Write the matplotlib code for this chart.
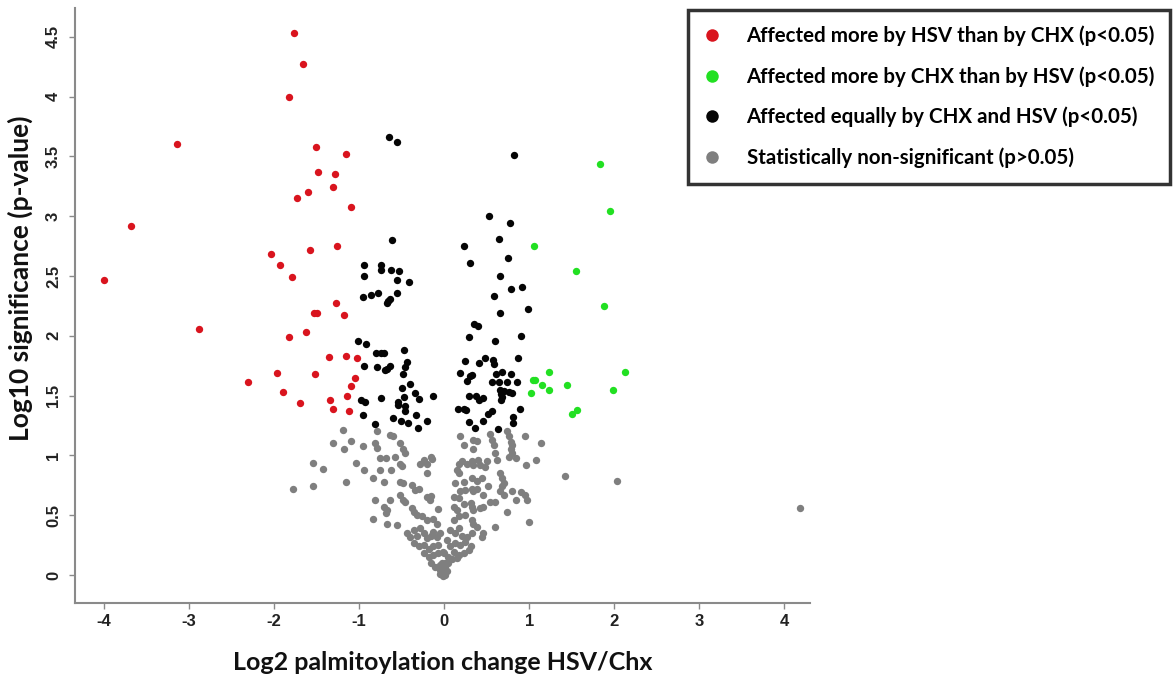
import matplotlib
matplotlib.use('Agg')
import matplotlib.pyplot as plt
from matplotlib.lines import Line2D

# red: affected more by HSV than CHX
red_x = [-1.76, -1.66, -1.83, -3.14, -1.51, -1.16, -1.48, -1.28, -1.31, -1.60,
         -1.73, -1.09, -3.68, -1.26, -1.58, -2.04, -1.93, -1.79, -4.00, -1.27,
         -1.53, -1.49, -1.18, -2.88, -1.62, -1.83, -1.36, -1.15, -1.02, -1.97,
         -1.52, -1.05, -2.31, -1.09, -1.90, -1.14, -1.69, -1.34, -1.31, -1.12]
red_y = [4.53, 4.27, 4.00, 3.60, 3.58, 3.52, 3.37, 3.35, 3.24, 3.20,
         3.15, 3.08, 2.92, 2.75, 2.72, 2.68, 2.59, 2.49, 2.47, 2.27,
         2.19, 2.19, 2.17, 2.06, 2.03, 1.99, 1.82, 1.83, 1.81, 1.69,
         1.68, 1.65, 1.61, 1.58, 1.53, 1.50, 1.44, 1.46, 1.39, 1.37]

# green: affected more by CHX than HSV
green_x = [1.83, 1.95, 1.05, 1.55, 1.88, 2.13, 1.23, 1.04, 1.07, 1.15, 1.23, 1.44, 1.98, 1.02, 1.50, 1.56]
green_y = [3.44, 3.04, 2.75, 2.54, 2.25, 1.70, 1.70, 1.63, 1.63, 1.59, 1.55, 1.59, 1.55, 1.52, 1.35, 1.38]

# black: affected equally
black_x = [-0.65, -0.56, 0.82, 0.53, 0.77, -0.61, 0.23, 0.64, 0.30, 0.75,
           -0.94, -0.74, -0.74, -0.62, -0.53, -0.94, -0.55, -0.41, 0.66, 0.92,
           0.78, -0.96, -0.86, -0.78, -0.56, -0.64, -0.66, -0.67, 0.58, 0.99,
           0.66, 0.35, 0.40, 0.29, 0.60, 0.90, -1.01, -0.92, -0.80, -0.74,
           -0.71, -0.47, 0.87, 0.25, 0.48, 0.41, 0.57, 0.58, -0.44, -0.46,
           -0.94, -0.79, -0.64, -0.67, -0.70, -0.49, 0.18, 0.33, 0.30, 0.27,
           0.61, 0.68, 0.78, 0.56, 0.64, 0.74, 0.86, -0.40, -0.50, -0.34,
           -0.30, -0.47, -0.74, -0.98, -0.93, -0.13, 0.29, 0.37, 0.41, 0.46,
           0.66, 0.70, 0.76, 0.80, 0.67, 0.68, 0.67, -0.54, -0.54, -0.46,
           -0.46, 0.16, 0.23, 0.26, 0.89, -0.96, 0.56, 0.51, -0.60, -0.51,
           -0.42, -0.33, -0.20, -0.31, -0.81, 0.29, 0.46, 0.36, 0.63, 0.81, 0.81]
black_y = [3.66, 3.62, 3.51, 3.00, 2.94, 2.80, 2.75, 2.81, 2.61, 2.65,
           2.59, 2.59, 2.55, 2.55, 2.54, 2.50, 2.47, 2.45, 2.50, 2.41,
           2.39, 2.32, 2.34, 2.36, 2.36, 2.31, 2.29, 2.27, 2.33, 2.22,
           2.19, 2.10, 2.08, 1.99, 1.96, 2.00, 1.96, 1.93, 1.86, 1.86,
           1.86, 1.88, 1.81, 1.79, 1.81, 1.77, 1.80, 1.76, 1.78, 1.74,
           1.75, 1.74, 1.75, 1.72, 1.71, 1.68, 1.69, 1.67, 1.66, 1.62,
           1.68, 1.70, 1.68, 1.61, 1.61, 1.61, 1.61, 1.60, 1.56, 1.52,
           1.47, 1.49, 1.48, 1.46, 1.45, 1.50, 1.50, 1.50, 1.46, 1.48,
           1.55, 1.54, 1.53, 1.52, 1.51, 1.49, 1.46, 1.45, 1.42, 1.41,
           1.37, 1.39, 1.39, 1.38, 1.39, 1.34, 1.37, 1.35, 1.31, 1.29,
           1.27, 1.34, 1.29, 1.23, 1.26, 1.28, 1.29, 1.23, 1.22, 1.32, 1.27]

# gray: non-significant
gray_x = [-1.78, -1.54, -1.54, -1.43, -1.31, -1.19, -1.15, -1.18, -1.10, -1.04,
          -0.96, -0.94, -0.84, -0.81, -0.84, -0.79, -0.81, -0.79, -0.76, -0.76,
          -0.64, -0.60, -0.52, -0.48, -0.46, -0.68, -0.58, -0.52, -0.50, -0.62,
          -0.28, -0.24, -0.16, -0.20, -0.14, -0.20, -0.71, -0.52, -0.48, -0.38,
          -0.34, -0.30, -0.20, -0.17, -0.16, -0.52, -0.48, -0.46, -0.64, -0.71,
          -0.67, -0.69, -0.38, -0.36, -0.32, -0.26, -0.20, -0.13, -0.09, -0.07,
          -0.67, -0.56, -0.44, -0.40, -0.36, -0.32, -0.28, -0.24, -0.20, -0.16,
          -0.13, -0.09, -0.05, -0.36, -0.30, -0.24, -0.18, -0.13, -0.07, -0.24,
          -0.18, -0.13, -0.07, -0.01, -0.16, -0.11, -0.05, 0.01, -0.05, -0.01,
          0.03, 0.19, 0.23, 0.34, 0.38, 0.34, 0.54, 0.56, 0.58, 0.60,
          0.62, 0.17, 0.21, 0.27, 0.33, 0.34, 0.40, 0.42, 0.15, 0.17,
          0.33, 0.38, 0.44, 0.66, 0.68, 0.70, 0.13, 0.23, 0.19, 0.25,
          0.33, 0.34, 0.38, 0.52, 0.46, 0.54, 0.60, 0.66, 0.70, 0.11,
          0.17, 0.11, 0.15, 0.23, 0.31, 0.33, 0.34, 0.42, 0.46, 0.11,
          0.17, 0.25, 0.33, 0.34, 0.38, 0.60, 0.07, 0.13, 0.17, 0.21,
          0.27, 0.33, 0.44, 0.46, 0.03, 0.07, 0.13, 0.19, 0.25, 0.31,
          0.00, 0.05, 0.11, 0.17, 0.23, 0.29, -0.03, 0.01, 0.05, 0.09,
          0.15, -0.03, 0.01, -0.05, 0.74, 0.76, 0.78, 0.80, 0.78, 0.80,
          0.76, 0.84, 0.95, 1.14, 1.08, 0.96, 0.68, 0.80, 0.84, 0.90,
          0.95, 0.97, 0.74, 1.00, 1.42, 2.03, 4.18, 0.50, 0.48]
gray_y = [0.72, 0.74, 0.94, 0.89, 1.10, 1.21, 0.78, 1.05, 1.12, 0.94,
          1.08, 0.88, 0.81, 0.63, 0.47, 1.20, 1.10, 1.06, 0.98, 0.88,
          1.17, 1.16, 1.10, 1.05, 1.02, 0.98, 0.99, 0.93, 0.91, 0.88,
          0.93, 0.96, 0.99, 0.93, 0.97, 0.85, 0.78, 0.78, 0.77, 0.75,
          0.71, 0.72, 0.65, 0.63, 0.66, 0.67, 0.63, 0.61, 0.63, 0.57,
          0.54, 0.52, 0.56, 0.53, 0.50, 0.49, 0.46, 0.47, 0.43, 0.55,
          0.43, 0.42, 0.35, 0.32, 0.38, 0.33, 0.39, 0.35, 0.31, 0.33,
          0.36, 0.32, 0.35, 0.27, 0.24, 0.25, 0.22, 0.24, 0.25, 0.18,
          0.15, 0.17, 0.18, 0.19, 0.10, 0.07, 0.08, 0.10, 0.01, -0.01,
          0.03, 1.16, 1.09, 1.13, 1.12, 1.05, 1.18, 1.13, 1.09, 1.02,
          0.96, 0.93, 0.95, 0.93, 0.95, 0.92, 0.96, 0.92, 0.88, 0.85,
          0.81, 0.79, 0.81, 0.85, 0.81, 0.77, 0.77, 0.78, 0.70, 0.71,
          0.72, 0.70, 0.72, 0.74, 0.67, 0.61, 0.61, 0.70, 0.67, 0.65,
          0.64, 0.57, 0.54, 0.59, 0.60, 0.57, 0.54, 0.56, 0.57, 0.46,
          0.49, 0.50, 0.46, 0.43, 0.40, 0.40, 0.38, 0.35, 0.39, 0.33,
          0.32, 0.35, 0.32, 0.35, 0.29, 0.24, 0.27, 0.25, 0.28, 0.24,
          0.18, 0.15, 0.19, 0.17, 0.18, 0.21, 0.10, 0.07, 0.10, 0.13,
          0.14, 0.01, 0.00, 0.04, 1.20, 1.16, 1.11, 1.09, 1.05, 1.02,
          0.99, 0.98, 1.16, 1.10, 0.96, 0.92, 0.74, 0.70, 0.63, 0.69,
          0.67, 0.63, 0.53, 0.44, 0.83, 0.79, 0.56, 0.95, 0.90]

x_ticks = [-4, -3, -2, -1, 0, 1, 2, 3, 4]
y_ticks = [0, 0.5, 1, 1.5, 2, 2.5, 3, 3.5, 4, 4.5]

legend_labels = ['Affected more by HSV than by CHX (p<0.05)',
                 'Affected more by CHX than by HSV (p<0.05)',
                 'Affected equally by CHX and HSV (p<0.05)',
                 'Statistically non-significant (p>0.05)']

c_red = '#d9141e'
c_green = '#22e022'
c_black = '#050505'
c_gray = '#7f7f7f'

fig = plt.figure(figsize=(11.73, 6.8), dpi=100)
ax = fig.add_axes([75 / 1173, 1 - 603 / 680, 735 / 1173, 595 / 680])

ms = 28
ax.scatter(gray_x, gray_y, s=ms, color=c_gray, linewidths=0)
ax.scatter(black_x, black_y, s=ms, color=c_black, linewidths=0)
ax.scatter(red_x, red_y, s=ms, color=c_red, linewidths=0)
ax.scatter(green_x, green_y, s=ms, color=c_green, linewidths=0)

ax.set_xlim(-4.34, 4.3)
ax.set_ylim(-0.234, 4.74)
ax.set_xticks(x_ticks)
ax.set_yticks(y_ticks)
ax.set_xticklabels([str(t) for t in x_ticks], fontsize=12, fontweight='bold',
                   family=['Liberation Sans Narrow', 'Liberation Sans'], color='#222222')
ax.set_yticklabels(['0', '0.5', '1', '1.5', '2', '2.5', '3', '3.5', '4', '4.5'],
                   fontsize=12, fontweight='bold', rotation=90, va='center',
                   family=['Liberation Sans Narrow', 'Liberation Sans'], color='#222222')
for s in ['top', 'right']:
    ax.spines[s].set_visible(False)
for s in ['left', 'bottom']:
    ax.spines[s].set_color('#8a8a8a')
    ax.spines[s].set_linewidth(1.5)
ax.tick_params(axis='both', direction='out', length=4, width=1, color='#8a8a8a')
ax.tick_params(axis='x', pad=4)
ax.tick_params(axis='y', pad=6)

fig.text(443 / 1173, 1 - 662 / 680, 'Log2 palmitoylation change HSV/Chx', ha='center', va='center',
         fontsize=18, fontweight='bold', family='Lato', color='#111111')
fig.text(20 / 1173, 1 - 278 / 680, 'Log10 significance (p-value)', ha='center', va='center',
         rotation=90, fontsize=19, fontweight='bold', family='Lato', color='#111111')

handles = [Line2D([], [], marker='o', linestyle='none', markersize=9, markerfacecolor=c,
                  markeredgewidth=0) for c in [c_red, c_green, c_black, c_gray]]
leg = fig.legend(handles, legend_labels, loc='upper left',
                 bbox_to_anchor=(688 / 1173, 1 - 10 / 680), frameon=True, fancybox=False,
                 edgecolor='black', prop={'family': 'Lato', 'weight': 'bold', 'size': 14.8},
                 handlelength=0.8, handletextpad=1.3, labelspacing=0.98, borderpad=0.75,
                 borderaxespad=0)
leg.get_frame().set_linewidth(2.5)

fig.savefig('out.png', dpi=100)
